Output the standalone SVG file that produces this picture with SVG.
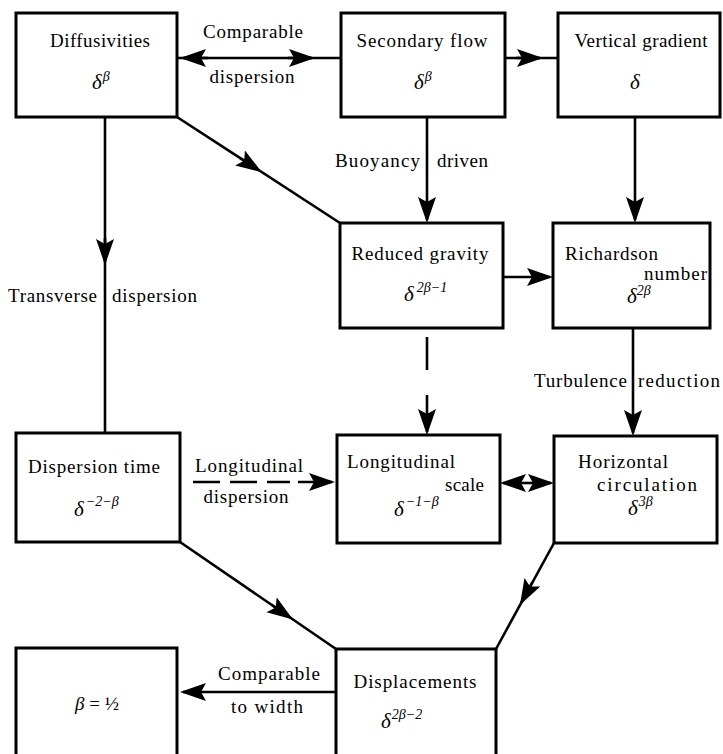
<svg xmlns="http://www.w3.org/2000/svg" width="723" height="754" viewBox="0 0 723 754">
<style>
.box{fill:#fff;stroke:#000;stroke-width:3}
.ln{fill:none;stroke:#000;stroke-width:2.6}
.hd{fill:none;stroke:#000;stroke-width:2.6;marker-end:url(#ah)}
text{font-family:"Liberation Serif","Times New Roman",serif;font-size:19px;fill:#000}
.m{font-style:italic;font-size:21px}
.s{font-size:14px}
.c{text-anchor:middle}
.e{text-anchor:end}
</style>
<defs>
<marker id="ah" markerUnits="userSpaceOnUse" markerWidth="28" markerHeight="20" refX="23" refY="9" orient="auto">
<path d="M0,0 L26,9 L0,18 L5,9 z" fill="#000"/>
</marker>
</defs>
<rect width="723" height="754" fill="#fff"/>

<g id="connectors">
<path class="ln" d="M177,58 H341"/>
<path class="hd" d="M208,58 H183"/>
<path class="hd" d="M288,58 H312"/>
<path class="ln" d="M505,58 H558"/>
<path class="hd" d="M516,58 H540"/>
<path class="ln" d="M177,117 L340,223"/>
<path class="hd" d="M240,158 L259.3,170.5"/>
<path class="hd" d="M427,117 V220"/>
<path class="hd" d="M635,117 V220"/>
<path class="ln" d="M105,117 V433"/>
<path class="hd" d="M105,238 V262"/>
<path class="hd" d="M503,277 H550"/>
<path class="ln" d="M427,337 V370"/>
<path class="hd" d="M427,395 V432"/>
<path class="hd" d="M633,328 V433"/>
<path class="hd" d="M527,483 H503"/>
<path class="hd" d="M527,483 H551"/>
<path class="ln" d="M193,482 H290" stroke-dasharray="27 10"/>
<path class="hd" d="M298,482 H332"/>
<path class="ln" d="M180,542 L336,649"/>
<path class="hd" d="M271.5,604.7 L290.5,617.8"/>
<path class="ln" d="M554,543 L496,649"/>
<path class="hd" d="M532.5,582 L521.4,602.4"/>
<path class="hd" d="M336,692 H183"/>
</g>

<g id="connector-labels">
<text class="c" x="253" y="38" textLength="100">Comparable</text>
<text class="c" x="252" y="83" textLength="85">dispersion</text>
<text class="e" x="420" y="167" textLength="85">Buoyancy</text>
<text x="437" y="167" textLength="51">driven</text>
<text x="8" y="302" textLength="89">Transverse</text>
<text x="112" y="302" textLength="85">dispersion</text>
<text class="e" x="627" y="387" textLength="93">Turbulence</text>
<text x="638" y="387" textLength="82">reduction</text>
<text class="c" x="249" y="472" textLength="108">Longitudinal</text>
<text class="c" x="246" y="503" textLength="85">dispersion</text>
<text class="c" x="269" y="680" textLength="102">Comparable</text>
<text class="c" x="267" y="713" textLength="72">to width</text>
</g>

<g id="diffusivities">
<rect class="box" x="16" y="13" width="161" height="104"/>
<text class="c" x="100" y="47" textLength="100">Diffusivities</text>
<text class="m" x="92" y="89">δ<tspan class="s" dx="1" dy="-8">β</tspan></text>
</g>
<g id="secondary-flow">
<rect class="box" x="341" y="13" width="164" height="104"/>
<text class="c" x="422" y="47" textLength="131">Secondary flow</text>
<text class="m" x="414" y="89">δ<tspan class="s" dx="1" dy="-8">β</tspan></text>
</g>
<g id="vertical-gradient">
<rect class="box" x="558" y="13" width="162" height="104"/>
<text class="c" x="641" y="47" textLength="133">Vertical gradient</text>
<text class="m c" x="635" y="89">δ</text>
</g>
<g id="reduced-gravity">
<rect class="box" x="340" y="223" width="163" height="105"/>
<text class="c" x="420" y="260" textLength="137">Reduced gravity</text>
<text class="m" x="404" y="301">δ<tspan class="s" dx="3" dy="-9">2β−1</tspan></text>
</g>
<g id="richardson-number">
<rect class="box" x="553" y="223" width="157" height="105"/>
<text x="565" y="260" textLength="93">Richardson</text>
<text class="e" x="707" y="280" textLength="63">number</text>
<text class="m" x="627" y="303">δ<tspan class="s" dy="-8">2β</tspan></text>
</g>
<g id="dispersion-time">
<rect class="box" x="16" y="433" width="164" height="109"/>
<text class="c" x="94" y="473" textLength="132">Dispersion time</text>
<text class="m" x="74" y="516">δ<tspan class="s" dx="2" dy="-10">−2−β</tspan></text>
</g>
<g id="longitudinal-scale">
<rect class="box" x="337" y="435" width="163" height="108"/>
<text x="347" y="468" textLength="108">Longitudinal</text>
<text class="e" x="484" y="491" textLength="39">scale</text>
<text class="m" x="394" y="516">δ<tspan class="s" dx="2" dy="-10">−1−β</tspan></text>
</g>
<g id="horizontal-circulation">
<rect class="box" x="554" y="436" width="163" height="107"/>
<text x="578" y="468" textLength="90">Horizontal</text>
<text class="e" x="697" y="491" textLength="100">circulation</text>
<text class="m" x="628" y="515">δ<tspan class="s" dx="1" dy="-9">3β</tspan></text>
</g>
<g id="beta">
<rect class="box" x="16" y="648" width="161" height="130"/>
<text class="c" x="97" y="710"><tspan font-style="italic">β</tspan> = ½</text>
</g>
<g id="displacements">
<rect class="box" x="336" y="649" width="160" height="130"/>
<text class="c" x="415" y="688" textLength="123">Displacements</text>
<text class="m" x="381" y="728">δ<tspan class="s" dx="1" dy="-9">2β−2</tspan></text>
</g>
</svg>
